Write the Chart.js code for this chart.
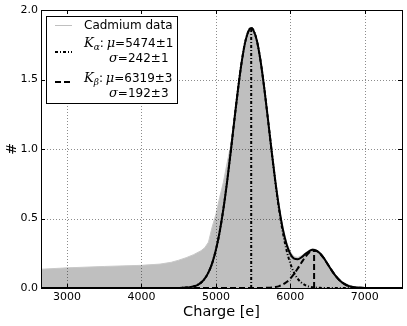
<!DOCTYPE html>
<html>
<head>
<meta charset="utf-8">
<script src="https://cdn.jsdelivr.net/npm/chart.js@4.4.0/dist/chart.umd.min.js"></script>
<style>
  html, body { margin: 0; padding: 0; background: #fff; }
  #wrap { width: 407px; height: 326px; }
</style>
</head>
<body>
<div id="wrap"><canvas id="chart1" width="407" height="326"></canvas></div>
<script>
// measured histogram (Cadmium data)
const dataX = [2650, 3000, 3500, 4000, 4250, 4400, 4500, 4600, 4700, 4800, 4850, 4900, 4950, 5000, 5050, 5100, 5150, 5200,
  5250, 5300, 5350, 5400, 5450, 5475,
  5500, 5550, 5600, 5650, 5700, 5750, 5800, 5850, 5900, 5950, 6000, 6050, 6100, 6150, 6200, 6250, 6300,
  6350, 6400, 6450, 6500, 6550, 6600, 6650, 6700, 6750, 6800, 6850, 6900, 6950, 7000, 7500];
const dataY = [0.135, 0.145, 0.155, 0.163, 0.172, 0.185, 0.2, 0.218, 0.24, 0.268, 0.29, 0.33, 0.44, 0.53, 0.65, 0.76, 0.90, 1.03,
  1.23, 1.45, 1.64, 1.78, 1.86, 1.87,
  1.86, 1.78, 1.635, 1.44, 1.215, 0.985, 0.77, 0.585, 0.435, 0.33, 0.26, 0.225, 0.22, 0.232, 0.252, 0.272, 0.282,
  0.276, 0.256, 0.222, 0.18, 0.14, 0.10, 0.07, 0.046, 0.03, 0.019, 0.011, 0.006, 0.003, 0.001, 0];

// fit curves
const fitX = [2650, 4000, 4400, 4450, 4500, 4550, 4600, 4650, 4700, 4750, 4800, 4850, 4900, 4950, 5000, 5050,
  5100, 5150, 5200, 5250, 5300, 5350, 5400, 5450, 5475,
  5500, 5550, 5600, 5650, 5700, 5750, 5800, 5850, 5900, 5950, 6000, 6050, 6100, 6150, 6200, 6250, 6300,
  6350, 6400, 6450, 6500, 6550, 6600, 6650, 6700, 6750, 6800, 6850, 6900, 6950, 7000, 7500];
const kaFit = [0, 0, 0.0001, 0.0002, 0.0006, 0.0013, 0.0028, 0.0057, 0.0112, 0.0213, 0.0387, 0.0673, 0.112, 0.179, 0.275, 0.403,
  0.567, 0.763, 0.985, 1.219, 1.444, 1.640, 1.785, 1.861, 1.870,
  1.859, 1.780, 1.633, 1.435, 1.209, 0.976, 0.755, 0.559, 0.397, 0.270, 0.176, 0.110, 0.0658, 0.0378, 0.0208, 0.0109, 0.0055,
  0.0027, 0.0012, 0.0005, 0.0002, 0.0001, 0, 0, 0, 0, 0, 0, 0, 0, 0, 0];
const kbFit = [0, 0, 0, 0, 0, 0, 0, 0, 0, 0, 0, 0, 0, 0, 0, 0,
  0, 0, 0, 0, 0, 0, 0, 0, 0,
  0, 0, 0.0002, 0.0006, 0.0015, 0.0034, 0.007, 0.0137, 0.025, 0.0426, 0.068, 0.101, 0.141, 0.183, 0.223, 0.253, 0.269,
  0.2665, 0.247, 0.214, 0.173, 0.131, 0.0925, 0.0611, 0.0377, 0.0217, 0.0117, 0.0059, 0.0028, 0.0012, 0.0005, 0];
const totalFit = [0, 0, 0.0001, 0.0002, 0.0006, 0.0013, 0.0028, 0.0057, 0.0112, 0.0213, 0.0387, 0.0673, 0.112, 0.179, 0.275, 0.403,
  0.567, 0.763, 0.985, 1.219, 1.444, 1.640, 1.785, 1.861, 1.870,
  1.859, 1.780, 1.633, 1.436, 1.211, 0.979, 0.762, 0.573, 0.422, 0.313, 0.244, 0.211, 0.207, 0.221, 0.244, 0.264, 0.275,
  0.269, 0.248, 0.215, 0.173, 0.131, 0.0925, 0.0611, 0.0377, 0.0217, 0.0117, 0.0059, 0.0028, 0.0012, 0.0005, 0];

// peak markers
const kaMu = 5474, kaPeak = 1.87;
const kbMu = 6319, kbPeak = 0.27;

const xTicks = [3000, 4000, 5000, 6000, 7000];
const yTicks = [0, 0.5, 1.0, 1.5, 2.0];

const legendRows = [
  { label: 'Cadmium data' },
  { sym: 'α', mu: '=5474±1', sigma: '=242±1' },
  { sym: 'β', mu: '=6319±3', sigma: '=192±3' }
];

const dashDot = [3, 2, 1, 2];
const dashed = [6, 3];

function pts(xs, ys) {
  return xs.map((x, i) => ({ x: x, y: ys[i] }));
}

const sans = '"DejaVu Sans", sans-serif';
const serifIt = 'italic 13px "DejaVu Serif", serif';

function drawMathRow(ctx, x, y, sym, mu) {
  ctx.textBaseline = 'middle';
  ctx.textAlign = 'left';
  ctx.font = serifIt;
  ctx.fillText('K', x, y);
  x += ctx.measureText('K').width;
  ctx.font = 'italic 9px "DejaVu Serif", serif';
  ctx.fillText(sym, x, y + 4);
  x += ctx.measureText(sym).width;
  ctx.font = '12px ' + sans;
  ctx.fillText(':', x, y);
  x += ctx.measureText(': ').width - 1;
  ctx.font = serifIt;
  ctx.fillText('μ', x, y);
  x += ctx.measureText('μ').width;
  ctx.font = '12px ' + sans;
  ctx.fillText(mu, x, y);
}

function drawSigma(ctx, x, y, val) {
  ctx.font = serifIt;
  ctx.fillText('σ', x, y);
  x += ctx.measureText('σ').width;
  ctx.font = '12px ' + sans;
  ctx.fillText(val, x, y);
}

const framePlugin = {
  id: 'frame',
  afterDatasetDraw(chart, args) {
    // grid goes over the grey fill but under the fit lines
    if (args.index !== 0) return;
    const ctx = chart.ctx, a = chart.chartArea;
    const xs = chart.scales.x, ys = chart.scales.y;
    ctx.save();
    ctx.strokeStyle = 'rgba(0,0,0,0.45)';
    ctx.lineWidth = 1;
    ctx.setLineDash([1, 2]);
    xTicks.forEach(v => {
      const px = Math.round(xs.getPixelForValue(v)) + 0.5;
      ctx.beginPath(); ctx.moveTo(px, a.top); ctx.lineTo(px, a.bottom); ctx.stroke();
    });
    yTicks.forEach(v => {
      const py = Math.round(ys.getPixelForValue(v)) + 0.5;
      ctx.beginPath(); ctx.moveTo(a.left, py); ctx.lineTo(a.right, py); ctx.stroke();
    });
    ctx.restore();
  },
  afterDraw(chart) {
    const ctx = chart.ctx, a = chart.chartArea;
    const xs = chart.scales.x, ys = chart.scales.y;
    ctx.save();
    ctx.strokeStyle = '#000';
    ctx.lineWidth = 1;
    ctx.setLineDash([]);
    // inward tick marks
    xTicks.forEach(v => {
      const px = Math.round(xs.getPixelForValue(v)) + 0.5;
      ctx.beginPath();
      ctx.moveTo(px, a.bottom); ctx.lineTo(px, a.bottom - 4);
      ctx.moveTo(px, a.top); ctx.lineTo(px, a.top + 4);
      ctx.stroke();
    });
    yTicks.forEach(v => {
      const py = Math.round(ys.getPixelForValue(v)) + 0.5;
      ctx.beginPath();
      ctx.moveTo(a.left, py); ctx.lineTo(a.left + 4, py);
      ctx.moveTo(a.right, py); ctx.lineTo(a.right - 4, py);
      ctx.stroke();
    });
    ctx.strokeRect(Math.round(a.left) + 0.5, Math.round(a.top) + 0.5,
      Math.round(a.right - a.left), Math.round(a.bottom - a.top));

    // legend box
    const lx = a.left + 5, ly = a.top + 6;
    ctx.fillStyle = '#fff';
    ctx.fillRect(lx, ly, 131, 87);
    ctx.strokeRect(lx + 0.5, ly + 0.5, 131, 87);

    const sx0 = lx + 9, sx1 = lx + 26, tx = lx + 38;
    ctx.fillStyle = '#000';
    // row 1
    ctx.strokeStyle = '#c0c0c0';
    ctx.beginPath(); ctx.moveTo(sx0, ly + 9.5); ctx.lineTo(sx1, ly + 9.5); ctx.stroke();
    ctx.font = '12px ' + sans;
    ctx.textBaseline = 'middle';
    ctx.fillText(legendRows[0].label, tx, ly + 9.5);
    // row 2
    ctx.strokeStyle = '#000';
    ctx.lineWidth = 2;
    ctx.setLineDash(dashDot);
    ctx.beginPath(); ctx.moveTo(sx0, ly + 36); ctx.lineTo(sx1, ly + 36); ctx.stroke();
    drawMathRow(ctx, tx, ly + 28, legendRows[1].sym, legendRows[1].mu);
    drawSigma(ctx, lx + 63, ly + 42.5, legendRows[1].sigma);
    // row 3
    ctx.setLineDash(dashed);
    ctx.beginPath(); ctx.moveTo(sx0, ly + 66); ctx.lineTo(sx1, ly + 66); ctx.stroke();
    drawMathRow(ctx, tx, ly + 62.5, legendRows[2].sym, legendRows[2].mu);
    drawSigma(ctx, lx + 63, ly + 77.5, legendRows[2].sigma);
    ctx.restore();
  }
};

new Chart(document.getElementById('chart1'), {
  type: 'scatter',
  data: {
    datasets: [
      {
        label: 'Cadmium data',
        data: pts(dataX, dataY),
        showLine: true,
        fill: 'origin',
        backgroundColor: '#bfbfbf',
        borderColor: '#c8c8c8',
        borderWidth: 1,
        pointRadius: 0,
        tension: 0,
        order: 10
      },
      {
        label: 'Ka fit',
        data: pts(fitX, kaFit),
        showLine: true,
        borderColor: '#000',
        borderWidth: 2,
        borderDash: dashDot,
        pointRadius: 0,
        cubicInterpolationMode: 'monotone',
        order: 3
      },
      {
        label: 'Kb fit',
        data: pts(fitX, kbFit),
        showLine: true,
        borderColor: '#000',
        borderWidth: 2,
        borderDash: dashed,
        pointRadius: 0,
        cubicInterpolationMode: 'monotone',
        order: 4
      },
      {
        label: 'Ka mean',
        data: pts([kaMu, kaMu], [0, kaPeak]),
        showLine: true,
        borderColor: '#000',
        borderWidth: 2,
        borderDash: dashDot,
        pointRadius: 0,
        order: 2
      },
      {
        label: 'Kb mean',
        data: pts([kbMu, kbMu], [0, kbPeak]),
        showLine: true,
        borderColor: '#000',
        borderWidth: 2,
        borderDash: dashed,
        pointRadius: 0,
        order: 2
      },
      {
        label: 'Total fit',
        data: pts(fitX, totalFit),
        showLine: true,
        borderColor: '#000',
        borderWidth: 2,
        pointRadius: 0,
        cubicInterpolationMode: 'monotone',
        order: 1
      }
    ]
  },
  options: {
    responsive: false,
    animation: false,
    layout: { padding: { top: 10, right: 5, left: 0, bottom: 0 } },
    plugins: {
      legend: { display: false },
      tooltip: { enabled: false }
    },
    scales: {
      x: {
        type: 'linear',
        min: 2650,
        max: 7500,
        afterBuildTicks: s => { s.ticks = xTicks.map(v => ({ value: v })); },
        afterFit: s => { s.height = 38; },
        grid: { display: false, drawTicks: false },
        border: { display: false },
        ticks: {
          color: '#000',
          font: { family: 'DejaVu Sans', size: 11 },
          padding: 3,
          maxRotation: 0,
          callback: v => String(v)
        },
        title: {
          display: true,
          text: 'Charge [e]',
          color: '#000',
          font: { family: 'DejaVu Sans', size: 14.5 },
          padding: { top: 0, bottom: 5 }
        }
      },
      y: {
        min: 0,
        max: 2,
        afterBuildTicks: s => { s.ticks = yTicks.map(v => ({ value: v })); },
        afterFit: s => { s.width = 41; },
        grid: { display: false, drawTicks: false },
        border: { display: false },
        ticks: {
          color: '#000',
          font: { family: 'DejaVu Sans', size: 11 },
          padding: 3,
          callback: v => v.toFixed(1)
        },
        title: {
          display: true,
          text: '#',
          color: '#000',
          font: { family: 'DejaVu Sans', size: 14 },
          padding: { top: 4, bottom: 0 }
        }
      }
    }
  },
  plugins: [framePlugin]
});
</script>
</body>
</html>
